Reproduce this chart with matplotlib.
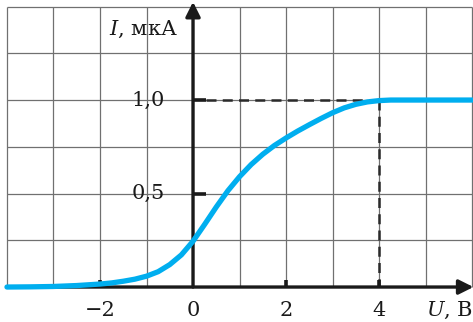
import matplotlib
matplotlib.use("Agg")
import matplotlib.pyplot as plt

plt.rcParams['font.family'] = 'DejaVu Serif'
plt.rcParams['mathtext.fontset'] = 'dejavuserif'

# вольт-амперная характеристика
U = [-4, -3.5, -3, -2.5, -2, -1.75, -1.5, -1.25, -1, -0.75, -0.5, -0.25, 0,
     0.25, 0.5, 0.75, 1.0, 1.25, 1.5, 1.75, 2, 2.25, 2.5, 2.75, 3, 3.25, 3.5,
     3.75, 4, 4.25, 4.5, 5, 6]
I = [0, 0.001, 0.003, 0.008, 0.016, 0.022, 0.031, 0.042, 0.058, 0.082, 0.12,
     0.172, 0.245, 0.335, 0.428, 0.515, 0.59, 0.655, 0.71, 0.757, 0.797, 0.834,
     0.868, 0.901, 0.932, 0.958, 0.977, 0.99, 0.997, 1.0, 1.0, 1.0, 1.0]

x_ticks = [-2, 0, 2, 4]
x_labels = ['−2', '0', '2', '4']
y_ticks = [0.5, 1.0]
y_labels = ['0,5', '1,0']
grid_u = [-4, -3, -2, -1, 0, 1, 2, 3, 4, 5, 6]
grid_i = [0.25, 0.5, 0.75, 1.0, 1.25, 1.5]
U_sat, I_sat = 4, 1.0

fig = plt.figure(figsize=(4.73, 3.22), dpi=100)
ax = fig.add_axes([0, 0, 1, 1])
ax.set_xlim(-4.15, 6.02)
ax.set_ylim(-0.187, 1.535)
ax.axis('off')

# сетка
ax.vlines(grid_u, 0, 1.5, color='#707070', lw=0.9, zorder=1)
ax.hlines(grid_i, -4, 6, color='#707070', lw=0.9, zorder=1)

# оси со стрелками
ax.annotate('', xy=(6.03, 0), xytext=(-4, 0),
            arrowprops=dict(arrowstyle='-|>', lw=2.4, color='#1a1a1a',
                            mutation_scale=22, shrinkA=0, shrinkB=0), zorder=3)
ax.annotate('', xy=(0, 1.525), xytext=(0, 0),
            arrowprops=dict(arrowstyle='-|>', lw=2.4, color='#1a1a1a',
                            mutation_scale=22, shrinkA=0, shrinkB=0), zorder=3)

# штрихи
for u in x_ticks:
    if u != 0:
        ax.plot([u, u], [0, 0.04], color='#1a1a1a', lw=2.6, solid_capstyle='butt', zorder=3)
for i in y_ticks:
    ax.plot([0, 0.27], [i, i], color='#1a1a1a', lw=2.6, solid_capstyle='butt', zorder=3)

# пунктир к точке насыщения
ax.plot([0.27, U_sat], [I_sat, I_sat], ls=(0, (4, 2.5)), color='#2a2a2a', lw=1.8, zorder=2)
ax.plot([U_sat, U_sat], [I_sat, 0], ls=(0, (4, 2.5)), color='#2a2a2a', lw=1.8, zorder=2)

# кривая
ax.plot(U, I, color='#00aeef', lw=3.8, solid_capstyle='round',
        solid_joinstyle='round', zorder=4)

# подписи
for u, lab in zip(x_ticks, x_labels):
    ax.text(u, -0.125, lab, ha='center', va='center', fontsize=15, color='#1a1a1a')
for i, lab in zip(y_ticks, y_labels):
    ax.text(-0.6, i, lab, ha='right', va='center', fontsize=15, color='#1a1a1a')
ax.text(-0.33, 1.38, r'$I$, мкА', ha='right', va='center', fontsize=15, color='#1a1a1a')
ax.text(5.02, -0.125, r'$U$, В', ha='left', va='center', fontsize=15, color='#1a1a1a')

fig.savefig('out.png', dpi=100)
